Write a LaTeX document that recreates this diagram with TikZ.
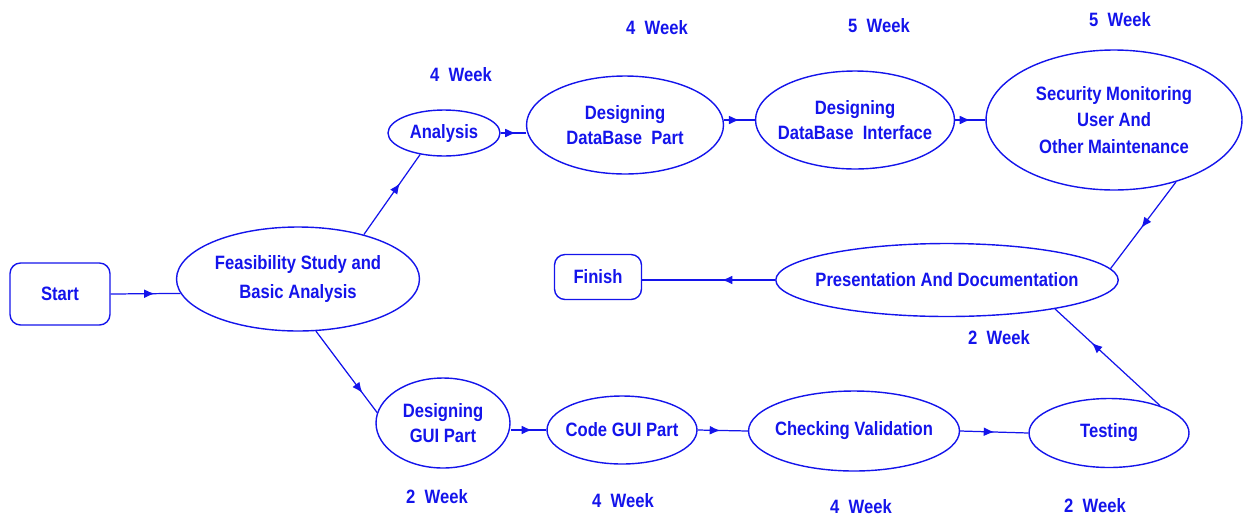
\documentclass[tikz,border=0pt]{standalone}
\usepackage{fontspec}
\setmainfont{Liberation Sans}[FakeStretch=0.86]
\usetikzlibrary{shapes.geometric,arrows.meta,decorations.markings}
\definecolor{planblue}{RGB}{20,20,235}
\tikzset{
  task/.style={ellipse, draw=planblue, line width=0.8pt, inner xsep=-6pt, inner ysep=0pt, align=center,
    text=planblue, font=\bfseries\fontsize{11}{14}\selectfont},
  terminal/.style={rectangle, rounded corners=6pt, draw=planblue, line width=0.8pt,
    inner sep=0pt, text=planblue, font=\bfseries\fontsize{11}{14}\selectfont},
  week/.style={text=planblue, font=\bfseries\fontsize{11}{14}\selectfont},
  link/.style={draw=planblue, line width=0.7pt},
  midarr/.style={postaction={decorate, decoration={markings,
    mark=at position #1 with {\arrow{Latex[length=6pt,width=5pt]}}}}},
  midarr/.default=0.55
}
\begin{document}
\begin{tikzpicture}[x=0.02cm, y=-0.02cm]
		\useasboundingbox (0,0) rectangle (1243,518);
		\node[terminal, minimum width=2cm, minimum height=1.24cm] (start) at (60,294) {Start};
		\node[task, minimum width=4.86cm, minimum height=2.08cm] (feas) at (298,279) {Feasibility Study and\\[2pt] Basic Analysis};
		\node[task, minimum width=2.24cm, minimum height=0.92cm] (ana) at (444,133) {Analysis};
		\node[task, minimum width=3.94cm, minimum height=1.96cm] (dbpart) at (625,125) {Designing\\ DataBase~~Part};
		\node[task, minimum width=3.98cm, minimum height=1.96cm] (dbint) at (855,120) {Designing\\ DataBase~~Interface};
		\node[task, minimum width=5.12cm, minimum height=2.8cm] (secu) at (1114,120) {Security Monitoring\\[1pt] User And\\[1pt] Other Maintenance};
		\node[terminal, minimum width=1.74cm, minimum height=0.9cm] (finish) at (598,277) {Finish};
		\node[task, minimum width=6.78cm, minimum height=1.46cm] (pres) at (947,280) {Presentation And Documentation};
		\node[task, minimum width=2.68cm, minimum height=1.8cm] (gui) at (443,423) {Designing\\ GUI Part};
		\node[task, minimum width=3cm, minimum height=1.36cm] (code) at (622,430) {Code GUI Part};
		\node[task, minimum width=4.22cm, minimum height=1.6cm] (check) at (854,431) {Checking Validation};
		\node[task, minimum width=3.2cm, minimum height=1.38cm] (test) at (1109,433) {Testing};

		\node[week] (w1) at (461,75) {4~~Week};
		\node[week] (w2) at (657,28) {4~~Week};
		\node[week] (w3) at (879,26) {5~~Week};
		\node[week] (w4) at (1120,20) {5~~Week};
		\node[week] (w5) at (999,338) {2~~Week};
		\node[week] (w6) at (437,497) {2~~Week};
		\node[week] (w7) at (623,501) {4~~Week};
		\node[week] (w8) at (861,507) {4~~Week};
		\node[week] (w9) at (1095,506) {2~~Week};

		\draw[link, midarr=0.63] (start.east) -- (feas.187);
		\draw[link, midarr=0.64] (feas.34) -- (ana.222);
		\draw[link, midarr=0.76] (feas.-71) -- (gui.171);
		\draw[link, midarr=0.6] (ana.east) -- (ana.east -| dbpart.west);
		\draw[link, midarr=0.5] (dbint.west -| dbpart.east) -- (dbint.west);
		\draw[link, midarr=0.5] (dbint.east) -- (secu.west);
		\draw[link, midarr=0.53] (secu.-45) -- (pres.4);
		\draw[link, midarr=0.6] (code.west -| gui.east) -- (code.west);
		\draw[link, midarr=0.45] (code.east) -- (check.west);
		\draw[link, midarr=0.5] (check.east) -- (test.west);
		\draw[link, midarr=0.65] (test.28) -- (pres.-15);
		\draw[link, midarr=0.4] (pres.west) -- (finish.east |- pres.west);
	\end{tikzpicture}
\end{document}
